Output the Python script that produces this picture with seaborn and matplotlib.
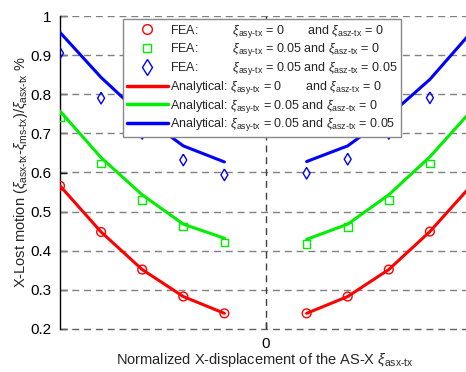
import numpy as np
import pandas as pd
import matplotlib
matplotlib.use("Agg")
import matplotlib.pyplot as plt
from matplotlib.lines import Line2D
import seaborn as sns

# ---------------- data ----------------
x_left = [-5, -4, -3, -2, -1]
x_right = [1, 2, 3, 4, 5]

fea_red_left = [0.566, 0.448, 0.352, 0.283, 0.240]
fea_red_right = [0.240, 0.283, 0.352, 0.449, 0.566]
fea_green_left = [0.741, 0.623, 0.529, 0.462, 0.421]
fea_green_right = [0.418, 0.461, 0.529, 0.623, 0.741]
fea_blue_left = [0.905, 0.790, 0.700, 0.632, 0.594]
fea_blue_right = [0.598, 0.634, 0.700, 0.791, 0.905]

ana_red_left = [0.566, 0.448, 0.352, 0.283, 0.240]
ana_red_right = [0.240, 0.283, 0.352, 0.449, 0.566]
ana_green_left = [0.757, 0.638, 0.543, 0.468, 0.432]
ana_green_right = [0.429, 0.468, 0.543, 0.640, 0.757]
ana_blue_left = [0.958, 0.843, 0.745, 0.668, 0.627]
ana_blue_right = [0.628, 0.668, 0.745, 0.838, 0.958]

colors = {"red": "#ff0000", "green": "#00ee00", "blue": "#0000ff"}

fea_labels = [
    r"FEA:          $\xi_{\rm asy\text{-}tx}$ = 0       and $\xi_{\rm asz\text{-}tx}$ = 0",
    r"FEA:          $\xi_{\rm asy\text{-}tx}$ = 0.05 and $\xi_{\rm asz\text{-}tx}$ = 0",
    r"FEA:          $\xi_{\rm asy\text{-}tx}$ = 0.05 and $\xi_{\rm asz\text{-}tx}$ = 0.05",
]
ana_labels = [
    r"Analytical: $\xi_{\rm asy\text{-}tx}$ = 0       and $\xi_{\rm asz\text{-}tx}$ = 0",
    r"Analytical: $\xi_{\rm asy\text{-}tx}$ = 0.05 and $\xi_{\rm asz\text{-}tx}$ = 0",
    r"Analytical: $\xi_{\rm asy\text{-}tx}$ = 0.05 and $\xi_{\rm asz\text{-}tx}$ = 0.05",
]

# ---------------- build frames ----------------
series = ["red", "green", "blue"]
ana = {"red": (ana_red_left, ana_red_right),
       "green": (ana_green_left, ana_green_right),
       "blue": (ana_blue_left, ana_blue_right)}
fea = {"red": (fea_red_left, fea_red_right),
       "green": (fea_green_left, fea_green_right),
       "blue": (fea_blue_left, fea_blue_right)}
markers = {"red": "o", "green": "s", "blue": "D"}
msizes = {"red": 40, "green": 30, "blue": 34}

rows_a, rows_f = [], []
for s in series:
    for side, xs, ys in (("L", x_left, ana[s][0]), ("R", x_right, ana[s][1])):
        for xv, yv in zip(xs, ys):
            rows_a.append(dict(x=xv, y=yv, series=s, side=side))
    for side, xs, ys in (("L", x_left, fea[s][0]), ("R", x_right, fea[s][1])):
        for xv, yv in zip(xs, ys):
            rows_f.append(dict(x=xv, y=yv, series=s, side=side))
dfa = pd.DataFrame(rows_a)
dff = pd.DataFrame(rows_f)

# ---------------- style ----------------
sns.set_style("white")
plt.rcParams["font.family"] = ["Liberation Sans", "DejaVu Sans"]
plt.rcParams["mathtext.fontset"] = "custom"
plt.rcParams["mathtext.rm"] = "Liberation Sans"
plt.rcParams["mathtext.it"] = "Liberation Sans:italic"
plt.rcParams["mathtext.bf"] = "Liberation Sans:bold"

fig = plt.figure(figsize=(4.66, 3.72), dpi=100)
ax = fig.add_axes([60 / 466, 1 - 329 / 372, 411 / 466, 313 / 372])

for s in series:
    sub = dfa[dfa.series == s]
    sns.lineplot(data=sub, x="x", y="y", units="side", estimator=None,
                 color=colors[s], lw=2.2, ax=ax, legend=False, zorder=3)
for s in series:
    sub = dff[dff.series == s]
    if s == "blue":
        ax.scatter(sub.x, sub.y, marker=[(0, 1), (0.6, 0), (0, -1), (-0.6, 0), (0, 1)],
                   s=70, facecolors="none", edgecolors=colors[s], linewidths=1.0, zorder=4)
    else:
        sns.scatterplot(data=sub, x="x", y="y", marker=markers[s], s=msizes[s],
                        facecolors="none", edgecolor=colors[s], linewidth=1.0,
                        ax=ax, legend=False, zorder=4)

ax.set_xlim(-5, 5)
ax.set_ylim(0.2, 1.0)
ax.set_xticks([0])
ax.set_xticklabels(["0"])
ax.set_yticks(np.round(np.arange(0.2, 1.01, 0.1), 1))
ax.set_yticklabels(["0.2", "0.3", "0.4", "0.5", "0.6", "0.7", "0.8", "0.9", "1"])
for yv in np.arange(0.3, 1.01, 0.1):
    ax.axhline(yv, color="#808080", lw=1.0, ls=(0, (5, 3.5)), zorder=1)
ax.axhline(0.2, color="#606060", lw=1.0, ls=(0, (5, 3.5)), zorder=1, clip_on=False)
ax.axvline(0, color="#404040", lw=1.0, ls=(0, (5, 3.5)), zorder=1)

for side in ("top", "right", "bottom"):
    ax.spines[side].set_visible(False)
ax.spines["left"].set_color("black")
ax.spines["left"].set_linewidth(1.0)
ax.tick_params(axis="y", direction="in", length=5, width=1, colors="black",
               labelsize=11, pad=6, left=True)
ax.tick_params(axis="x", direction="in", length=5, width=1, colors="black",
               labelsize=11, pad=6, bottom=True)

ax.set_xlabel(r"Normalized X-displacement of the AS-X $\xi_{\rm asx\text{-}tx}$",
              fontsize=10.5, labelpad=2)
ax.xaxis.set_label_coords((265 - 60) / 411, -0.07)
ax.set_ylabel(r"X-Lost motion ($\xi_{\rm asx\text{-}tx}$-$\xi_{\rm ms\text{-}tx}$)/$\xi_{\rm asx\text{-}tx}$ %",
              fontsize=10.5, labelpad=2)
ax.yaxis.set_label_coords(-0.072, 0.5)

handles = [
    Line2D([], [], ls="none", marker="o", ms=7, mfc="none", mec=colors["red"], mew=1.0),
    Line2D([], [], ls="none", marker="s", ms=6, mfc="none", mec=colors["green"], mew=1.0),
    Line2D([], [], ls="none", marker="d", ms=8, mfc="none", mec=colors["blue"], mew=1.0),
    Line2D([], [], color=colors["red"], lw=2.5),
    Line2D([], [], color=colors["green"], lw=2.5),
    Line2D([], [], color=colors["blue"], lw=2.5),
]
leg = ax.legend(handles, fea_labels + ana_labels, loc="upper left",
                bbox_to_anchor=(123 / 466, 1 - 19 / 372), bbox_transform=fig.transFigure,
                borderaxespad=0, fontsize=9, frameon=True, fancybox=False,
                framealpha=1, edgecolor="#888888", handlelength=3.3,
                handletextpad=0.15, labelspacing=0.14, borderpad=0.3)
leg.get_frame().set_linewidth(1.0)
leg.set_zorder(10)

fig.savefig("out.png", dpi=100)
